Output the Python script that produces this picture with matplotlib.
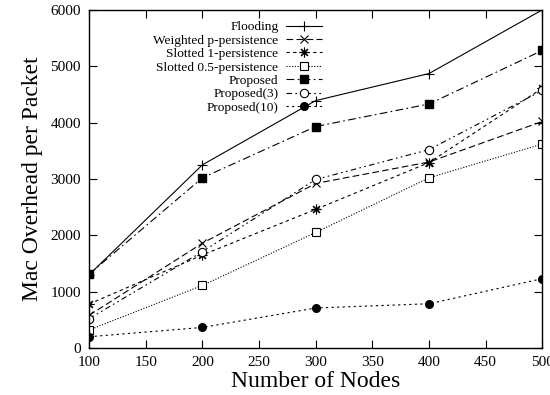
import matplotlib
matplotlib.use("Agg")
import matplotlib.pyplot as plt

plt.rcParams['font.family'] = ['Liberation Serif', 'DejaVu Serif']

# number of nodes
nodes = [100, 200, 300, 400, 500]

# mac overhead per packet
flooding = [1300, 3250, 4390, 4870, 6000]
weighted_p = [580, 1860, 2920, 3300, 4020]
slotted_1 = [780, 1650, 2460, 3290, 4610]
slotted_05 = [320, 1110, 2050, 3020, 3620]
proposed = [1310, 3020, 3930, 4330, 5280]
proposed_3 = [520, 1710, 2990, 3520, 4570]
proposed_10 = [200, 365, 710, 785, 1230]

labels = ["Flooding", "Weighted p-persistence", "Slotted 1-persistence",
          "Slotted 0.5-persistence", "Proposed", "Proposed(3)", "Proposed(10)"]

fig = plt.figure(figsize=(5.5, 3.95), dpi=100)
ax = fig.add_axes([0.162, 0.119, 0.824, 0.856])

lw = 0.8
ax.plot(nodes, flooding, color='k', lw=lw, ls='-', marker='+', ms=7, mew=0.8, label=labels[0])
ax.plot(nodes, weighted_p, color='k', lw=lw, ls=(0, (6, 3)), marker='x', ms=6, mew=0.8, label=labels[1])
ax.plot(nodes, slotted_1, color='k', lw=lw, ls=(0, (3, 3)), marker=(8, 2, 0), ms=7, mew=0.8, label=labels[2])
ax.plot(nodes, slotted_05, color='k', lw=lw, ls=(0, (1, 1.5)), marker='s', ms=6, mfc='white', mew=0.8, label=labels[3])
ax.plot(nodes, proposed, color='k', lw=lw, ls=(0, (7, 3, 1.5, 3)), marker='s', ms=6, mfc='k', label=labels[4])
ax.plot(nodes, proposed_3, color='k', lw=lw, ls=(0, (5, 3, 1.5, 3, 1.5, 3)), marker='o', ms=6, mfc='white', mew=0.8, label=labels[5])
ax.plot(nodes, proposed_10, color='k', lw=lw, ls=(0, (2, 3)), marker='o', ms=5.5, mfc='k', label=labels[6])

ax.set_xlim(100, 500)
ax.set_ylim(0, 6000)
ax.set_xticks(range(100, 501, 50))
ax.set_yticks(range(0, 6001, 1000))
ax.tick_params(direction='in', top=True, right=True, length=6, width=0.8, labelsize=11, pad=6)
for s in ax.spines.values():
    s.set_linewidth(1.0)

ax.set_xlabel("Number of Nodes", fontsize=17, labelpad=1)
ax.set_ylabel("Mac Overhead per Packet", fontsize=17, labelpad=5)

ax.legend(loc='upper right', bbox_to_anchor=(0.515, 0.967), frameon=False,
          markerfirst=False, fontsize=9.6, labelspacing=0.08, handlelength=2.7,
          handletextpad=0.6, borderpad=0, borderaxespad=0)

fig.savefig("out.png", dpi=100)
